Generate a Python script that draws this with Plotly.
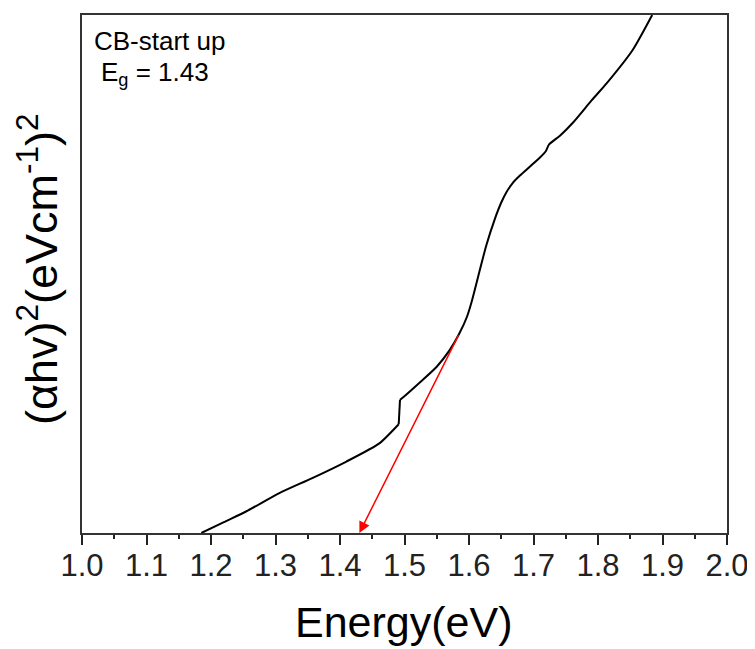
import plotly.graph_objects as go

# Data (arbitrary y units, 0..100 = plot height)
# Below the small step at ~1.49 eV
energy_low = [1.185, 1.220, 1.255, 1.306, 1.357, 1.410, 1.461, 1.491]
value_low = [0.0, 2.1, 4.2, 7.7, 10.6, 13.8, 17.3, 21.0]
# Above the step
energy_high = [1.493, 1.498, 1.525, 1.550, 1.570, 1.585, 1.597, 1.604, 1.616,
               1.627, 1.640, 1.650, 1.658, 1.668, 1.679, 1.695, 1.710, 1.719,
               1.724, 1.741, 1.761, 1.790, 1.814, 1.854, 1.884]
value_high = [25.7, 26.2, 29.2, 32.1, 35.3, 38.5, 41.8, 44.6, 50.4,
              55.6, 60.6, 63.8, 65.8, 67.6, 69.0, 70.8, 72.5, 73.7,
              75.0, 76.7, 79.2, 83.5, 86.9, 93.3, 100.0]

eg_value = 1.43
tangent_start_x = 1.585
tangent_start_y = 38.5

x_ticks = [1.0, 1.1, 1.2, 1.3, 1.4, 1.5, 1.6, 1.7, 1.8, 1.9, 2.0]
x_ticklabels = ["1.0", "1.1", "1.2", "1.3", "1.4", "1.5", "1.6", "1.7", "1.8", "1.9", "2.0"]

FONT = "Liberation Sans, Arial, sans-serif"
LINE = dict(color="black", width=2)

fig = go.Figure()
fig.add_trace(go.Scatter(x=energy_low, y=value_low, mode="lines",
                         line=dict(**LINE, shape="spline", smoothing=0.6), showlegend=False))
fig.add_trace(go.Scatter(x=[energy_low[-1], energy_high[0]], y=[value_low[-1], value_high[0]],
                         mode="lines", line=LINE, showlegend=False))
fig.add_trace(go.Scatter(x=energy_high, y=value_high, mode="lines",
                         line=dict(**LINE, shape="spline", smoothing=0.6), showlegend=False))

# Red tangent arrow down to Eg
fig.add_annotation(x=eg_value, y=0, ax=tangent_start_x, ay=tangent_start_y,
                   xref="x", yref="y", axref="x", ayref="y",
                   text="", showarrow=True, arrowhead=2, arrowsize=1.5,
                   arrowwidth=1.5, arrowcolor="red")

fig.add_annotation(x=0.0155, y=0.983, xref="paper", yref="paper",
                   xanchor="left", yanchor="top", showarrow=False, align="left",
                   text="CB-start up", font=dict(family=FONT, size=26, color="black"))
fig.add_annotation(x=0.026, y=0.922, xref="paper", yref="paper",
                   xanchor="left", yanchor="top", showarrow=False, align="left",
                   text="E<sub>g</sub> = 1.43", font=dict(family=FONT, size=26, color="black"))

# Axis titles as annotations
fig.add_annotation(x=-0.068, y=0.51, xref="paper", yref="paper",
                   xanchor="center", yanchor="middle", showarrow=False, textangle=-90,
                   text="(αhv)<sup>2</sup>(eVcm<sup>-1</sup>)<sup>2</sup>",
                   font=dict(family=FONT, size=45, color="black"))
fig.add_annotation(x=0.498, y=-0.171, xref="paper", yref="paper",
                   xanchor="center", yanchor="middle", showarrow=False,
                   text="Energy(eV)", font=dict(family=FONT, size=43, color="black"))

fig.update_xaxes(range=[1.0, 2.0], tickvals=x_ticks, ticktext=x_ticklabels,
                 ticks="outside", ticklen=10, tickwidth=1.5, tickcolor="#222",
                 ticklabelstandoff=-6,
                 minor=dict(dtick=0.05, tick0=1.0, ticks="outside", ticklen=4,
                            tickwidth=1.5, tickcolor="#222"),
                 showline=True, linecolor="#333", linewidth=2, mirror=True,
                 showgrid=False, zeroline=False,
                 tickfont=dict(family=FONT, size=31, color="#222"))
fig.update_yaxes(range=[0, 100], showticklabels=False, ticks="",
                 showline=True, linecolor="#333", linewidth=2, mirror=True,
                 showgrid=False, zeroline=False)

# The page body adds an 8px offset, so the figure is sized to the visible area
fig.update_layout(width=747, height=641,
                  margin=dict(l=74, r=28, t=5, b=116),
                  plot_bgcolor="white", paper_bgcolor="white")

fig.write_html("out.html")
